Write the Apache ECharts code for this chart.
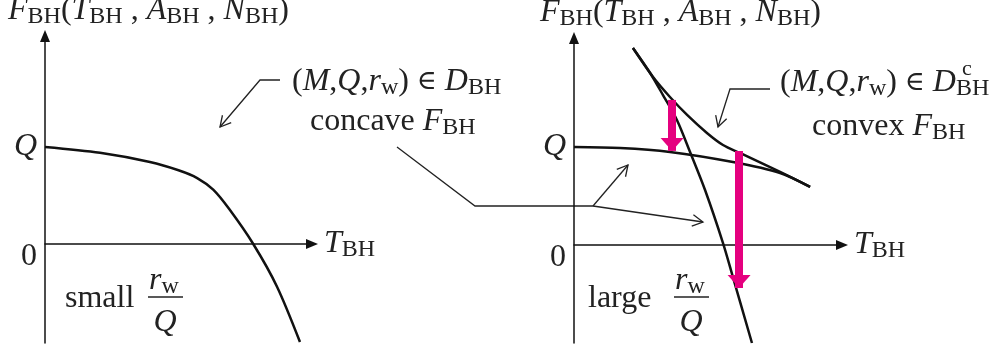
<!DOCTYPE html>
<html>
<head>
<meta charset="utf-8">
<script src="https://cdn.jsdelivr.net/npm/echarts@6/dist/echarts.min.js"></script>
<style>
  html, body { margin: 0; background: #fff; }
  #chart { width: 1000px; height: 356px; }
</style>
</head>
<body>
<div id="chart"></div>
<script>
// left panel (small r_w/Q): one curve, x in arbitrary T units, y in units of Q
const smallCurve = [[0, 1.0], [2.06, 0.94], [3.93, 0.845], [5.0, 0.76], [5.7, 0.68], [6.3, 0.56], [6.9, 0.36], [7.8, 0], [8.69, -0.44], [9.55, -1.01]];
// right panel (large r_w/Q)
const flatCurve = [[0, 1.0], [1.72, 0.99], [3.58, 0.95], [5.93, 0.847], [7.69, 0.735], [8.81, 0.592]];
const envelopeCurve = [[2.2, 2.01], [2.95, 1.714], [3.58, 1.51], [4.22, 1.327], [4.96, 1.143], [5.56, 1.02], [6.19, 0.939], [7.69, 0.745], [8.81, 0.592]];
const steepCurve = [[2.2, 2.01], [2.84, 1.755], [3.32, 1.53], [3.84, 1.276], [4.33, 0.949], [4.89, 0.561], [5.56, 0.02], [5.93, -0.327], [6.64, -1.0]];
// magenta drops: [x, from y, to y]
const drops = [[3.66, 1.48, 0.96], [6.16, 0.96, -0.44]];
const tickValues = [0, 1];
const tickLabels = ['0', 'Q'];

const FONT = '"Liberation Serif", "DejaVu Serif", serif';
const INK = '#222';
const MAGENTA = '#e5007f';

const rich = {
    i: { fontFamily: FONT, fontSize: 32, fontStyle: 'italic', lineHeight: 36, color: INK },
    r: { fontFamily: FONT, fontSize: 32, lineHeight: 36, color: INK },
    e: { fontFamily: FONT, fontSize: 27, lineHeight: 36, color: INK },
    s: { fontFamily: FONT, fontSize: 24, lineHeight: 22, verticalAlign: 'bottom', color: INK },
    c: { fontFamily: FONT, fontSize: 22, color: INK }
};
const tickRich = {
    q: { fontFamily: FONT, fontSize: 32, fontStyle: 'italic', color: INK },
    z: { fontFamily: FONT, fontSize: 32, color: INK, padding: [26, 0, 0, 0] }
};

function txt(x, y, text, align) {
    return { type: 'text', x: x, y: y, silent: true,
        style: { text: text, rich: rich, align: align || 'left', verticalAlign: 'middle', fill: INK } };
}
function seg(points, w) {
    return { type: 'polyline', silent: true, shape: { points: points },
        style: { stroke: INK, lineWidth: w || 1.3, fill: null } };
}
function head(x1, y1, x2, y2) {
    const a = Math.atan2(y2 - y1, x2 - x1), L = 12, t = 0.5;
    return seg([[x2 - L * Math.cos(a - t), y2 - L * Math.sin(a - t)], [x2, y2],
                [x2 - L * Math.cos(a + t), y2 - L * Math.sin(a + t)]]);
}
function fraction(x, top) {
    return [
        txt(x, top, '{i|r}{s|w}'),
        seg([[x - 1, top + 16], [x + 34, top + 16]], 1.3),
        txt(x + 16, top + 42, '{i|Q}', 'center')
    ];
}

function axisPair(i) {
    const line = { onZero: true, symbol: ['none', 'triangle'], symbolSize: [10, 12],
        lineStyle: { color: '#111', width: 1.5 } };
    return {
        x: { gridIndex: i, type: 'value', min: 0, max: 10, axisLine: line,
            axisTick: { show: false }, axisLabel: { show: false }, splitLine: { show: false },
            name: '{i|T}{s|BH}', nameLocation: 'end', nameGap: 12, nameTextStyle: { rich: rich } },
        y: { gridIndex: i, type: 'value', axisLine: line,
            axisTick: { show: false }, splitLine: { show: false },
            axisLabel: { customValues: tickValues, margin: 8, rich: tickRich,
                formatter: function (v) {
                    const k = tickValues.indexOf(v);
                    return k === 0 ? '{z|' + tickLabels[k] + '}' : '{q|' + tickLabels[k] + '}';
                } } }
    };
}
const A0 = axisPair(0), A1 = axisPair(1);
A0.y.min = -1.02; A0.y.max = 2.144;
A1.y.min = -1.0; A1.y.max = 2.112;

function curve(data, gi) {
    return { type: 'line', data: data, xAxisIndex: gi, yAxisIndex: gi, smooth: 0.3,
        showSymbol: false, silent: true, lineStyle: { color: '#111', width: 2.5 } };
}

const flat = curve(flatCurve, 1);
flat.markLine = {
    silent: true, symbol: ['none', 'triangle'], symbolSize: [23, 13],
    symbolOffset: [[0, 0], [0, 6.5]],
    label: { show: false }, lineStyle: { color: MAGENTA, width: 8, type: 'solid', opacity: 1 },
    data: drops.map(d => [{ coord: [d[0], d[1]] }, { coord: [d[0], d[2]] }])
};

const graphics = [
    txt(8, 11, '{i|F}{s|BH}{r|(}{i|T}{s|BH}{r| , }{i|A}{s|BH}{r| , }{i|N}{s|BH}{r|)}'),
    txt(540, 13, '{i|F}{s|BH}{r|(}{i|T}{s|BH}{r| , }{i|A}{s|BH}{r| , }{i|N}{s|BH}{r|)}'),
    txt(292, 82, '{r|(}{i|M}{r|,}{i|Q}{r|,}{i|r}{s|w}{r|) }{e|∈}{r| }{i|D}{s|BH}'),
    txt(310, 122, '{r|concave }{i|F}{s|BH}'),
    txt(780, 83, '{r|(}{i|M}{r|,}{i|Q}{r|,}{i|r}{s|w}{r|) }{e|∈}{r| }{i|D}{s|BH}'),
    txt(962, 69, '{c|c}'),
    txt(812, 127, '{r|convex }{i|F}{s|BH}'),
    txt(65, 299, '{r|small}'),
    txt(588, 299, '{r|large}'),
    // leader lines
    seg([[280, 80], [260, 80], [220, 127]]), head(260, 80, 220, 127),
    seg([[397, 147], [475, 206], [593, 206]]),
    seg([[593, 206], [628, 165]]), head(593, 206, 628, 165),
    seg([[593, 206], [703, 222]]), head(593, 206, 703, 222),
    seg([[770, 89], [730, 89], [718, 127]]), head(730, 89, 718, 127)
].concat(fraction(149, 281), fraction(675, 281));

const chart = echarts.init(document.getElementById('chart'));
chart.setOption({
    animation: false,
    backgroundColor: '#fff',
    grid: [
        { left: 45, top: 36, width: 267, height: 307 },
        { left: 574, top: 38, width: 268, height: 305 }
    ],
    xAxis: [A0.x, A1.x],
    yAxis: [A0.y, A1.y],
    series: [
        curve(smallCurve, 0),
        flat,
        curve(envelopeCurve, 1),
        curve(steepCurve, 1)
    ],
    graphic: graphics
});
</script>
</body>
</html>
